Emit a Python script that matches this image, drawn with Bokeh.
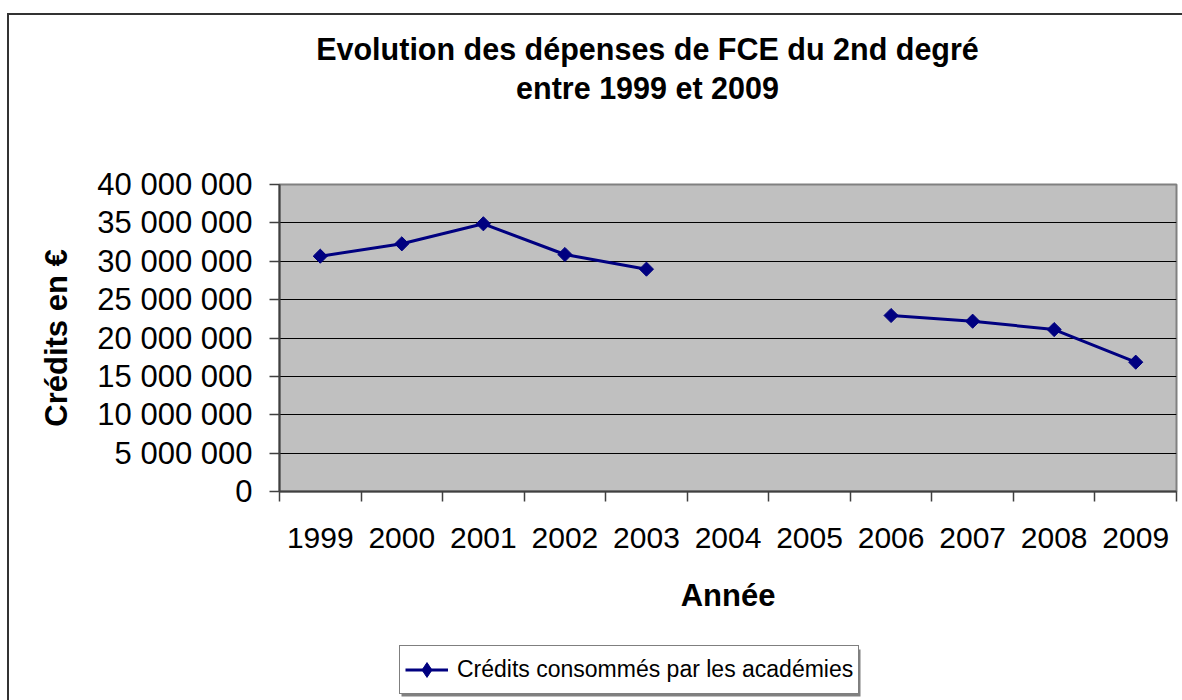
import math
from bokeh.plotting import figure
from bokeh.layouts import column
from bokeh.models import (FixedTicker, Range1d, Legend, LegendItem, Label,
                          BoxAnnotation, ColumnDataSource)
from bokeh.embed import file_html
from bokeh.resources import INLINE

# ---- data ----
years = ["1999", "2000", "2001", "2002", "2003", "2004", "2005",
         "2006", "2007", "2008", "2009"]
credits = [30_660_000, 32_270_000, 34_880_000, 30_880_000, 28_970_000,
           None, None,
           22_930_000, 22_190_000, 21_100_000, 16_850_000]
y_ticks = [0, 5_000_000, 10_000_000, 15_000_000, 20_000_000,
           25_000_000, 30_000_000, 35_000_000, 40_000_000]
y_tick_labels = ["0", "5 000 000", "10 000 000", "15 000 000", "20 000 000",
                 "25 000 000", "30 000 000", "35 000 000", "40 000 000"]
title_lines = ["Evolution des dépenses de FCE du 2nd degré",
               "entre 1999 et 2009"]
x_title = "Année"
y_title = "Crédits en €"
series_name = "Crédits consommés par les académies"

FONT = "Liberation Sans"
NAVY = "#000080"
W = 1173          # width of each stacked figure
FRAME_W = 897     # width of the plotting area

xs = [i + 0.5 for i in range(len(years))]
ys = [float("nan") if v is None else v for v in credits]
src = ColumnDataSource(dict(x=xs, y=ys))

# ---- title strip ----
p0 = figure(width=W, height=149, output_backend="svg", toolbar_location=None,
            x_axis_location=None, y_axis_location=None, min_border=0,
            x_range=Range1d(0, FRAME_W), y_range=Range1d(0, 149))
p0.title.visible = False
p0.outline_line_color = None
p0.grid.visible = False
for txt, yy in zip(title_lines, [116, 77]):
    p0.add_layout(Label(x=368, y=yy, text=txt, text_align="center",
                        text_baseline="alphabetic", text_font=FONT,
                        text_font_style="bold", text_font_size="30.5px",
                        text_color="black"))

# ---- main chart ----
p = figure(width=W, height=466, output_backend="svg", toolbar_location=None,
           x_range=Range1d(0, len(years)), y_range=Range1d(0, 40_000_000),
           min_border_left=270, min_border_top=20, min_border_bottom=139,
           min_border_right=6)
p.title.visible = False
p.background_fill_color = "#C0C0C0"
p.border_fill_color = "white"
p.outline_line_color = "#808080"
p.outline_line_width = 2

p.xgrid.grid_line_color = None
p.ygrid.grid_line_color = "black"
p.ygrid.grid_line_width = 1

ya = p.yaxis[0]
ya.ticker = FixedTicker(ticks=y_ticks)
ya.major_label_overrides = {t: l for t, l in zip(y_ticks, y_tick_labels)}
ya.major_label_text_font = FONT
ya.major_label_text_font_size = "31px"
ya.major_label_text_color = "black"
ya.major_label_standoff = 17
ya.major_tick_out = 10
ya.major_tick_in = 0
ya.major_tick_line_color = "#404040"
ya.major_tick_line_width = 1.5
ya.minor_tick_line_color = None
ya.axis_line_color = "#404040"
ya.axis_line_width = 2
ya.axis_label = y_title
ya.axis_label_text_font = FONT
ya.axis_label_text_font_style = "bold"
ya.axis_label_text_font_size = "31px"
ya.axis_label_text_color = "black"
ya.axis_label_standoff = 20

xa = p.xaxis[0]
xa.ticker = FixedTicker(ticks=xs, minor_ticks=list(range(len(years) + 1)))
xa.major_label_overrides = {x: y for x, y in zip(xs, years)}
xa.major_label_text_font = FONT
xa.major_label_text_font_size = "30px"
xa.major_label_text_color = "black"
xa.major_label_standoff = 26
xa.major_tick_out = 0
xa.major_tick_in = 0
xa.major_tick_line_color = None
xa.minor_tick_out = 10
xa.minor_tick_in = 0
xa.minor_tick_line_color = "#404040"
xa.minor_tick_line_width = 1.5
xa.axis_line_color = "#404040"
xa.axis_line_width = 2
xa.axis_label = x_title
xa.axis_label_text_font = FONT
xa.axis_label_text_font_style = "bold"
xa.axis_label_text_font_size = "31px"
xa.axis_label_text_color = "black"
xa.axis_label_standoff = 27

p.line("x", "y", source=src, line_color=NAVY, line_width=3)
p.scatter("x", "y", source=src, marker="square", size=10,
          angle=math.pi / 4, fill_color=NAVY, line_color=NAVY)

# ---- legend strip ----
p2 = figure(width=W, height=70, output_backend="svg", toolbar_location=None,
            x_axis_location=None, y_axis_location=None, min_border=0,
            x_range=Range1d(0, 1), y_range=Range1d(0, 1))
p2.title.visible = False
p2.outline_line_color = None
p2.grid.visible = False
# legend-only renderers (their points lie outside the visible range)
l2 = p2.line(x=[-10, -9], y=[-10, -10], line_color=NAVY, line_width=3)
s2 = p2.scatter(x=[-10], y=[-10], marker="diamond", size=16,
                fill_color=NAVY, line_color=NAVY)
# legend shadow
p2.add_layout(BoxAnnotation(left=122, right=581, bottom=4, top=51,
                            left_units="screen", right_units="screen",
                            bottom_units="screen", top_units="screen",
                            fill_color="#808080", fill_alpha=1,
                            line_color=None))
legend = Legend(items=[LegendItem(label=series_name, renderers=[l2, s2])],
                location=(120, 6), orientation="vertical",
                border_line_color="black", border_line_width=1,
                background_fill_color="white", background_fill_alpha=1,
                padding=5, spacing=0, margin=0,
                glyph_width=43, glyph_height=37, label_standoff=9,
                label_text_font=FONT, label_text_font_size="23px",
                label_text_color="black")
p2.add_layout(legend)

layout = column(p0, p, p2, spacing=0,
                styles={"margin-left": "7px", "margin-top": "13px",
                        "border-left": "2px solid #333333",
                        "border-top": "2px solid #333333"})

open("out.html", "w").write(file_html(layout, INLINE))
